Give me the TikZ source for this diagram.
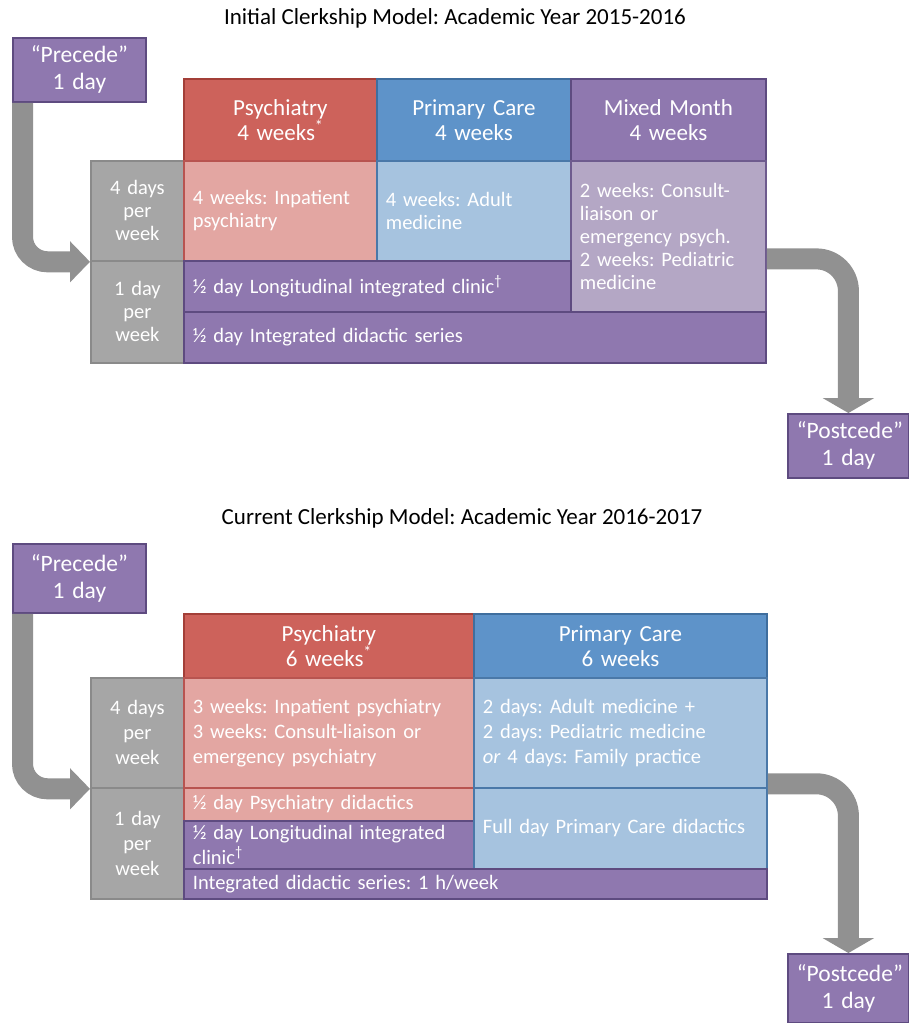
\documentclass[tikz,border=0pt]{standalone}
\usepackage{fontspec}
\setmainfont{Carlito}
\frenchspacing
\usetikzlibrary{arrows.meta}
\definecolor{pfill}{HTML}{8F78AF}
\definecolor{pdraw}{HTML}{5E4B80}
\definecolor{rfill}{HTML}{CD625B}
\definecolor{rdraw}{HTML}{A33F38}
\definecolor{bfill}{HTML}{5E93C9}
\definecolor{bdraw}{HTML}{3F6E9E}
\definecolor{pkfill}{HTML}{E3A6A2}
\definecolor{pkdraw}{HTML}{B85450}
\definecolor{lbfill}{HTML}{A6C3DF}
\definecolor{lbdraw}{HTML}{4A78A8}
\definecolor{lpfill}{HTML}{B4A7C5}
\definecolor{lpdraw}{HTML}{6E5B8E}
\definecolor{gfill}{HTML}{A6A6A6}
\definecolor{gdraw}{HTML}{8A8A8A}
\definecolor{agray}{HTML}{919191}
\newcommand\cbox[7]{%
  \pgfmathsetmacro\cbw{#5-#3}\pgfmathsetmacro\cbh{#6-#4}\pgfmathsetmacro\cbt{#5-#3-18}%
  \node[cell, #2, minimum width=\cbw pt, minimum height=\cbh pt, text width=\cbt pt] (#1) at (#3,#4) {#7};}
\begin{document}
\begin{tikzpicture}[x=1pt,y=-1pt,
  cell/.style={anchor=north west, inner xsep=9pt, inner ysep=0pt, line width=1.8pt, text=white},
  body/.style={align=left, font=\fontsize{20.5}{23}\selectfont},
  bodyb/.style={align=left, font=\fontsize{20.5}{25}\selectfont},
  head/.style={align=center, font=\fontsize{23}{25}\selectfont},
  endbox/.style={align=center, font=\fontsize{23.5}{27}\selectfont},
  purple/.style={fill=pfill, draw=pdraw},
  red/.style={fill=rfill, draw=rdraw},
  blue/.style={fill=bfill, draw=bdraw},
  pink/.style={fill=pkfill, draw=pkdraw},
  lblue/.style={fill=lbfill, draw=lbdraw},
  lpurple/.style={fill=lpfill, draw=lpdraw},
  grey/.style={fill=gfill, draw=gdraw},
  title/.style={font=\fontsize{23}{26}\selectfont, text=black},
  arrowl/.style={draw=agray, line width=21pt, rounded corners=25pt, -{Triangle[length=20pt,width=40pt]}},
  arrowr/.style={draw=agray, line width=21pt, rounded corners=32pt, -{Triangle[length=15pt,width=51pt]}}
]
\useasboundingbox (0,0) rectangle (909,1023);

% ---------- top diagram ----------
\node[title] (t1) at (455,18) {Initial Clerkship Model: Academic Year 2015-2016};
\cbox{pre1}{purple, endbox}{12}{37}{145}{101}{“Precede”\\1 day}
\cbox{h1a}{red, head}{183}{78}{376}{160}{Psychiatry\\4 weeks\textsuperscript{*}}
\cbox{h1b}{blue, head}{376}{78}{570}{160}{Primary Care\\4 weeks}
\cbox{h1c}{purple, head}{570}{78}{765}{160}{Mixed Month\\4 weeks}
\cbox{g1a}{grey, align=center, font=\fontsize{20.5}{23}\selectfont}{90}{160}{183}{260}{4 days\\per\\week}
\cbox{g1b}{grey, align=center, font=\fontsize{20.5}{23}\selectfont}{90}{260}{183}{362}{1 day\\per\\week}
\cbox{c1a}{pink, body}{183}{160}{376}{260}{4 weeks: Inpatient\\psychiatry}
\cbox{c1b}{lblue, body}{376}{160}{570}{260}{4 weeks: Adult\\medicine}
\cbox{c1c}{lpurple, body}{570}{160}{765}{311}{2 weeks: Consult-\\liaison or\\emergency psych.\\2 weeks: Pediatric\\medicine}
\cbox{l1}{purple, body}{183}{260}{570}{311}{½ day Longitudinal integrated clinic\textsuperscript{†}}
\cbox{d1}{purple, body}{183}{311}{765}{362}{½ day Integrated didactic series}
\cbox{post1}{purple, endbox}{787}{413}{908}{477}{“Postcede”\\1 day}
\draw[arrowl] ([xshift=10.5pt]pre1.south west) |- (g1a.south west);
\draw[arrowr] ([yshift=-22.5pt]c1c.east) -| (post1.north);

% ---------- bottom diagram ----------
\node[title] (t2) at (462,518) {Current Clerkship Model: Academic Year 2016-2017};
\cbox{pre2}{purple, endbox}{12}{543}{145}{612}{“Precede”\\1 day}
\cbox{h2a}{red, head}{183}{613}{473}{677}{Psychiatry\\6 weeks\textsuperscript{*}}
\cbox{h2b}{blue, head}{473}{613}{766}{677}{Primary Care\\6 weeks}
\cbox{g2a}{grey, align=center, font=\fontsize{20.5}{25}\selectfont}{90}{677}{183}{787}{4 days\\per\\week}
\cbox{g2b}{grey, align=center, font=\fontsize{20.5}{25}\selectfont}{90}{787}{183}{898}{1 day\\per\\week}
\cbox{c2a}{pink, bodyb}{183}{677}{473}{787}{3 weeks: Inpatient psychiatry\\3 weeks: Consult-liaison or\\emergency psychiatry}
\cbox{c2b}{lblue, bodyb}{473}{677}{766}{787}{2 days: Adult medicine +\\2 days: Pediatric medicine\\\textit{or} 4 days: Family practice}
\cbox{p2}{pink, bodyb}{183}{787}{473}{820}{½ day Psychiatry didactics}
\cbox{l2}{purple, bodyb}{183}{820}{473}{868}{½ day Longitudinal integrated\\clinic\textsuperscript{†}}
\cbox{f2}{lblue, bodyb}{473}{787}{766}{868}{Full day Primary Care didactics}
\cbox{d2}{purple, bodyb}{183}{868}{766}{898}{Integrated didactic series: 1 h/week}
\cbox{post2}{purple, endbox}{787}{953}{908}{1022}{“Postcede”\\1 day}
\draw[arrowl] ([xshift=10.5pt]pre2.south west) |- (g2a.south west);
\draw[arrowr] ([yshift=5pt]c2b.south east) -| (post2.north);
\end{tikzpicture}
\end{document}
